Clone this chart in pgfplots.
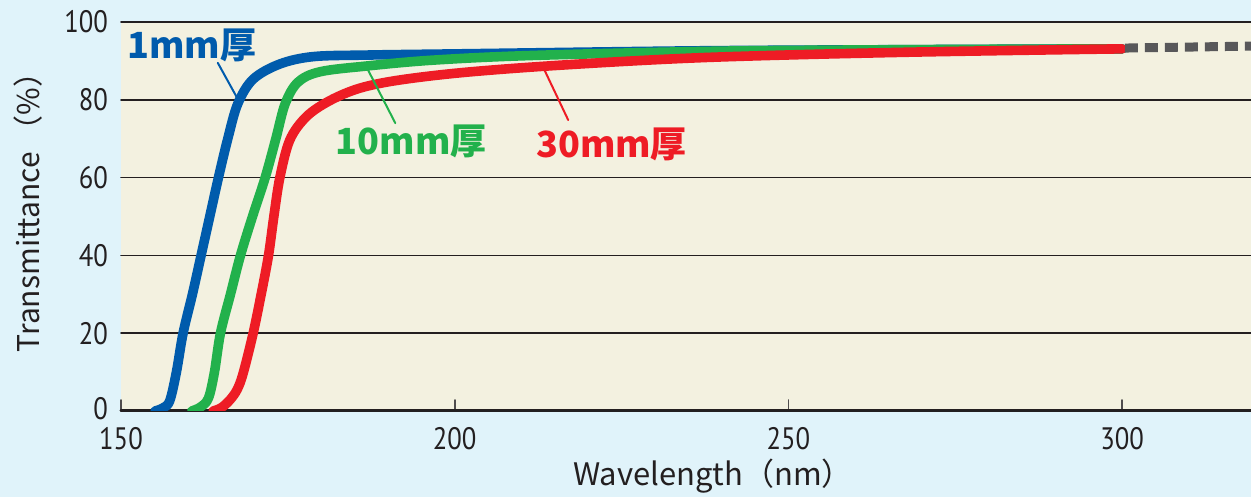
\documentclass[border=0pt]{standalone}
\usepackage{fontspec}
\usepackage{pgfplots}
\pgfplotsset{compat=1.18}
\usetikzlibrary{backgrounds}

\newfontfamily\cjk{Noto Sans CJK JP}
\newfontfamily\tickfont[FakeStretch=0.86]{PT Sans}

\definecolor{outerbg}{HTML}{E0F3FA}
\definecolor{plotbg}{HTML}{F3F1E0}
\definecolor{c1mm}{HTML}{005BAC}
\definecolor{c10mm}{HTML}{22B14C}
\definecolor{c30mm}{HTML}{EE1C25}
\definecolor{dashgray}{HTML}{58585A}
\definecolor{ink}{HTML}{231F20}

\begin{document}
\begin{tikzpicture}
\begin{axis}[
    name=ax,
    scale only axis,
    width=565pt, height=194.5pt,
    xmin=150, xmax=319.3,
    ymin=0, ymax=100,
    axis x line*=bottom,
    axis y line*=left,
    x axis line style={draw=ink, line width=1.5pt, -},
    y axis line style={draw=none},
    axis background/.style={fill=plotbg},
    xtick={150,200,250,300},
    ytick={0,20,40,60,80,100},
    yticklabels={\raisebox{3pt}{0},20,40,60,80,100},
    xtick align=inside,
    major tick length=5.5pt,
    xtick style={draw=ink!80, line width=0.9pt},
    ytick style={draw=none},
    ymajorgrids,
    grid style={draw=ink, line width=0.8pt},
    /pgf/number format/assume math mode=true,
    ticklabel style={font=\tickfont\fontsize{15.5}{18}\selectfont, text=ink},
    yticklabel style={xshift=-3pt},
    xticklabel style={yshift=-4.5pt},
    line cap=round, line join=round,
]
% 1 mm
\addplot[c1mm, line width=4.8pt, smooth, tension=0.55] coordinates {
    (155.1,0) (156.3,0.8) (157.3,2.6) (158.3,10) (159.3,20) (160.7,30)
    (162.0,40) (163.3,50) (164.6,60) (166.0,70) (167.5,79) (169.8,85.3)
    (173.8,89.2) (178.8,91.1) (186.9,91.5) (200,91.8) (237,92.6)
    (270,92.9) (300,93.1)};
% 10 mm
\addplot[c10mm, line width=4.8pt, smooth, tension=0.55] coordinates {
    (160.6,0) (161.9,1) (163.1,3.3) (164.0,10) (164.9,20) (166.4,30)
    (167.9,40) (169.7,50) (171.6,60) (173.2,70) (174.6,79) (176.5,84.5)
    (179.8,87.2) (186.9,88.7) (196.8,90.2) (211.7,91.4) (239.7,92.5)
    (270,92.9) (300,93.1)};
% 30 mm
\addplot[c30mm, line width=4.8pt, smooth, tension=0.55] coordinates {
    (163.8,0) (165.0,0.8) (166.3,2.8) (167.4,5.5) (168.3,9.7) (169.8,20)
    (171.0,30) (172.1,40) (172.9,50) (173.8,60) (175.3,69.7) (177.8,75.7)
    (181.3,79.8) (185.8,83.0) (191.8,85.1) (201.8,87.1) (216.8,89.0)
    (238,90.9) (267,92.2) (300,93.1)};
% extension
\addplot[dashgray, line width=4.5pt, line cap=butt, dash pattern=on 6.5pt off 3.5pt] coordinates {
    (300.4,93.3) (319.3,93.8)};

% labels and leaders
\draw[c1mm, line width=1pt] (axis cs:164.5,89.5) -- (axis cs:167.4,80.5);
\draw[c10mm, line width=1pt] (axis cs:187.0,87.7) -- (axis cs:191.1,74.0);
\draw[c30mm, line width=1pt] (axis cs:213.1,88.9) -- (axis cs:217.0,74.8);
\node[text=c1mm, font=\cjk\bfseries\fontsize{18}{20}\selectfont] at (axis cs:160.6,94.1) {1mm厚};
\node[text=c10mm, font=\cjk\bfseries\fontsize{18}{20}\selectfont] at (axis cs:193.5,69.2) {10mm厚};
\node[text=c30mm, font=\cjk\bfseries\fontsize{18}{20}\selectfont] at (axis cs:223.5,68.6) {30mm厚};
\end{axis}

\node[rotate=90, text=ink, font=\cjk\fontsize{15}{18}\selectfont]
    at ([shift={(-46.5pt,103pt)}]ax.south west) {Transmittance （\%）};
\node[text=ink, font=\cjk\fontsize{15.5}{18}\selectfont]
    at ([shift={(296pt,-32.5pt)}]ax.south west) {Wavelength（nm）};

\begin{scope}[on background layer]
\fill[outerbg] ([shift={(-60.5pt,-43pt)}]ax.south west) rectangle ([shift={(0pt,11pt)}]ax.north east);
\end{scope}
\pgfresetboundingbox
\path ([shift={(-60.5pt,-43pt)}]ax.south west) rectangle ([shift={(0pt,11pt)}]ax.north east);
\end{tikzpicture}
\end{document}
